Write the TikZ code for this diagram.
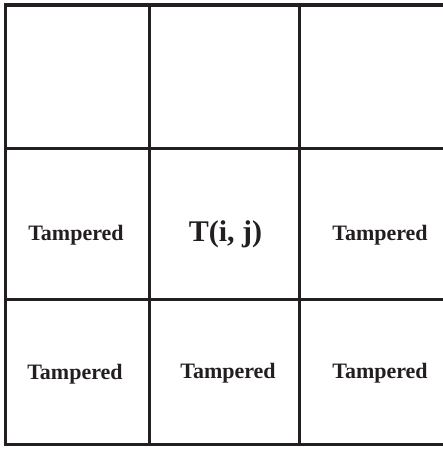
\documentclass[tikz,border=0pt]{standalone}
\usepackage{fontspec}
\setmainfont{Liberation Serif}
\usetikzlibrary{positioning}
\definecolor{GridDark}{RGB}{35, 31, 32}
\tikzset{
  gridline/.style={line width=3.4pt, draw=GridDark},
  celltext/.style={font=\fontsize{22}{26}\selectfont\bfseries, text=GridDark,
                   anchor=base, inner sep=0pt},
  maintext/.style={font=\fontsize{30}{36}\selectfont\bfseries, text=GridDark,
                   anchor=base, inner sep=0pt},
}
\begin{document}
\begin{tikzpicture}[x=1pt, y=-1pt]
  \useasboundingbox (0,0) rectangle (443,449);
  % grid lines
  \foreach \gx in {5.5, 149.5, 299.5}
    \draw[gridline] (\gx, 3.5) -- (\gx, 446);
  \foreach \gy in {5, 148.5, 299.5, 444.5}
    \draw[gridline] (4, \gy) -- (443, \gy);

  % middle row
  \node[celltext] (t21) at (76, 240) {Tampered};
  \node[maintext] (tij) at (225.5, 241.5) {T(i, j)};
  \node[celltext] (t23) at (380, 240) {Tampered};

  % bottom row
  \node[celltext] (t31) at (75, 379) {Tampered};
  \node[celltext] (t32) at (228, 378.5) {Tampered};
  \node[celltext] (t33) at (380, 378.5) {Tampered};
\end{tikzpicture}
\end{document}
